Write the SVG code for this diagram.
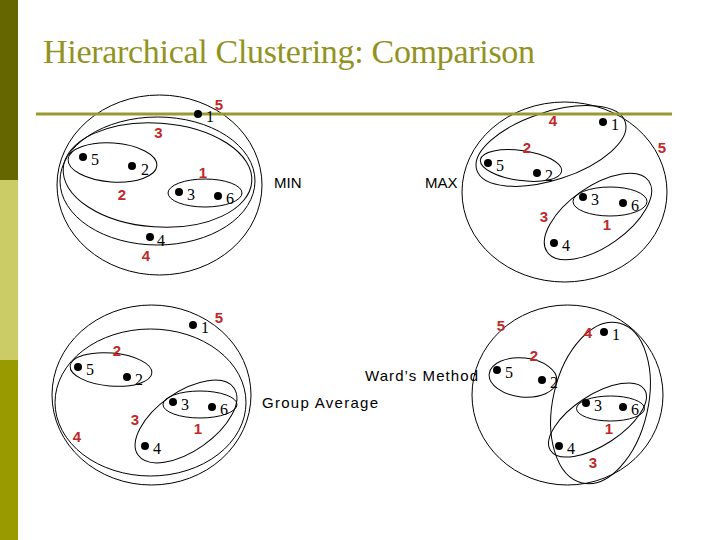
<svg xmlns="http://www.w3.org/2000/svg" width="720" height="540" viewBox="0 0 720 540">
<style>
.hull{fill:none;stroke:#000;stroke-width:1}
.dot{fill:#000}
.pl{font-family:"Liberation Serif","Times New Roman",serif;font-size:16px;fill:#000}
.rl{font-family:"Liberation Sans",Arial,sans-serif;font-size:15px;font-weight:bold;fill:#c0282a;text-anchor:middle}
.ml{font-family:"Liberation Sans",Arial,sans-serif;font-size:15px;fill:#000}
</style>
<rect width="720" height="540" fill="#fff"/>
<rect x="0" y="0" width="18" height="180" fill="#666600"/>
<rect x="0" y="180" width="18" height="180" fill="#cccc66"/>
<rect x="0" y="360" width="18" height="180" fill="#999900"/>
<text x="43" y="63" font-family="Liberation Serif,'Times New Roman',serif" font-size="34" fill="#92921f" textLength="492">Hierarchical Clustering: Comparison</text>

<g id="connectors">
  <g id="min-hulls">
    <ellipse class="hull" cx="159.5" cy="185" rx="102.5" ry="90"/>
    <ellipse class="hull" cx="157.5" cy="181" rx="97.5" ry="64"/>
    <ellipse class="hull" cx="157.5" cy="175" rx="94.5" ry="52" transform="rotate(4 157.5 175)"/>
    <ellipse class="hull" cx="112.5" cy="162.5" rx="44.5" ry="19.5" transform="rotate(4 112.5 162.5)"/>
    <ellipse class="hull" cx="205" cy="193" rx="37" ry="14"/>
  </g>
  <g id="max-hulls">
    <ellipse class="hull" cx="564.5" cy="192" rx="102.5" ry="90"/>
    <ellipse class="hull" cx="551" cy="146" rx="78" ry="34" transform="rotate(-18 551 146)"/>
    <ellipse class="hull" cx="521" cy="165.5" rx="41" ry="15" transform="rotate(8 521 165.5)"/>
    <ellipse class="hull" cx="598" cy="216.5" rx="62" ry="30" transform="rotate(-35 598 216.5)"/>
    <ellipse class="hull" cx="610" cy="201.5" rx="37" ry="14.5"/>
  </g>
  <g id="avg-hulls">
    <ellipse class="hull" cx="151.5" cy="395" rx="99.5" ry="90"/>
    <ellipse class="hull" cx="150.5" cy="402.5" rx="95.5" ry="73.5"/>
    <ellipse class="hull" cx="111" cy="369.5" rx="41" ry="16.5" transform="rotate(5 111 369.5)"/>
    <ellipse class="hull" cx="186" cy="421.5" rx="58.5" ry="29.5" transform="rotate(-35 186 421.5)"/>
    <ellipse class="hull" cx="200" cy="404.5" rx="37" ry="13.5"/>
  </g>
  <g id="ward-hulls">
    <ellipse class="hull" cx="567.5" cy="395" rx="95.5" ry="90"/>
    <ellipse class="hull" cx="600.5" cy="403" rx="47.5" ry="82" transform="rotate(13 600.5 403)"/>
    <ellipse class="hull" cx="597.5" cy="420" rx="56" ry="25" transform="rotate(-33 597.5 420)"/>
    <ellipse class="hull" cx="610.5" cy="408.5" rx="34" ry="12.5"/>
    <ellipse class="hull" cx="523" cy="377.5" rx="34" ry="19.5" transform="rotate(6 523 377.5)"/>
  </g>
</g>

<rect x="36" y="112.5" width="636" height="3" fill="#999933"/>

<g id="min">
  <g id="min-p1"><circle class="dot" cx="198" cy="114" r="4"/><text class="pl" x="206" y="122">1</text></g>
  <g id="min-p5"><circle class="dot" cx="83" cy="157" r="4"/><text class="pl" x="91" y="165">5</text></g>
  <g id="min-p2"><circle class="dot" cx="132" cy="166" r="4"/><text class="pl" x="141" y="175">2</text></g>
  <g id="min-p3"><circle class="dot" cx="179" cy="192" r="4"/><text class="pl" x="187" y="200">3</text></g>
  <g id="min-p6"><circle class="dot" cx="218" cy="196" r="4"/><text class="pl" x="226" y="204">6</text></g>
  <g id="min-p4"><circle class="dot" cx="150" cy="237" r="4"/><text class="pl" x="157" y="246">4</text></g>
  <text class="rl" x="219" y="110">5</text>
  <text class="rl" x="158.5" y="138">3</text>
  <text class="rl" x="203" y="178">1</text>
  <text class="rl" x="122" y="200">2</text>
  <text class="rl" x="146" y="261">4</text>
  <text class="ml" x="274" y="188">MIN</text>
</g>

<g id="max">
  <g id="max-p1"><circle class="dot" cx="603" cy="122" r="4"/><text class="pl" x="611" y="130">1</text></g>
  <g id="max-p5"><circle class="dot" cx="488" cy="163" r="4"/><text class="pl" x="496" y="171">5</text></g>
  <g id="max-p2"><circle class="dot" cx="537" cy="173" r="4"/><text class="pl" x="545" y="181">2</text></g>
  <g id="max-p3"><circle class="dot" cx="583" cy="197" r="4"/><text class="pl" x="591" y="205">3</text></g>
  <g id="max-p6"><circle class="dot" cx="623" cy="203" r="4"/><text class="pl" x="631" y="211">6</text></g>
  <g id="max-p4"><circle class="dot" cx="554" cy="243" r="4"/><text class="pl" x="562" y="251">4</text></g>
  <text class="rl" x="553" y="126">4</text>
  <text class="rl" x="527" y="153">2</text>
  <text class="rl" x="662" y="153">5</text>
  <text class="rl" x="544" y="222">3</text>
  <text class="rl" x="607" y="230">1</text>
  <text class="ml" x="425" y="188">MAX</text>
</g>

<g id="avg">
  <g id="avg-p1"><circle class="dot" cx="193" cy="325" r="4"/><text class="pl" x="201" y="333">1</text></g>
  <g id="avg-p5"><circle class="dot" cx="78" cy="367" r="4"/><text class="pl" x="86" y="375">5</text></g>
  <g id="avg-p2"><circle class="dot" cx="127" cy="377" r="4"/><text class="pl" x="135" y="385">2</text></g>
  <g id="avg-p3"><circle class="dot" cx="173" cy="402" r="4"/><text class="pl" x="181" y="410">3</text></g>
  <g id="avg-p6"><circle class="dot" cx="212" cy="407" r="4"/><text class="pl" x="220" y="415">6</text></g>
  <g id="avg-p4"><circle class="dot" cx="145" cy="446" r="4"/><text class="pl" x="153" y="454">4</text></g>
  <text class="rl" x="219" y="323">5</text>
  <text class="rl" x="117" y="356">2</text>
  <text class="rl" x="135" y="425">3</text>
  <text class="rl" x="198" y="434">1</text>
  <text class="rl" x="77" y="442">4</text>
  <text class="ml" x="262" y="408" font-size="16" textLength="116">Group Average</text>
</g>

<g id="ward">
  <g id="ward-p1"><circle class="dot" cx="604" cy="332" r="4"/><text class="pl" x="612" y="340">1</text></g>
  <g id="ward-p5"><circle class="dot" cx="497" cy="370" r="4"/><text class="pl" x="505" y="378">5</text></g>
  <g id="ward-p2"><circle class="dot" cx="542" cy="380" r="4"/><text class="pl" x="550" y="388">2</text></g>
  <g id="ward-p3"><circle class="dot" cx="586" cy="403" r="4"/><text class="pl" x="594" y="411">3</text></g>
  <g id="ward-p6"><circle class="dot" cx="623" cy="407" r="4"/><text class="pl" x="631" y="415">6</text></g>
  <g id="ward-p4"><circle class="dot" cx="559" cy="446" r="4"/><text class="pl" x="567" y="454">4</text></g>
  <text class="rl" x="501" y="331">5</text>
  <text class="rl" x="588" y="338">4</text>
  <text class="rl" x="534" y="361">2</text>
  <text class="rl" x="609" y="434">1</text>
  <text class="rl" x="593" y="468">3</text>
  <text class="ml" x="365" y="381" font-size="16" textLength="113">Ward’s Method</text>
</g>
</svg>
